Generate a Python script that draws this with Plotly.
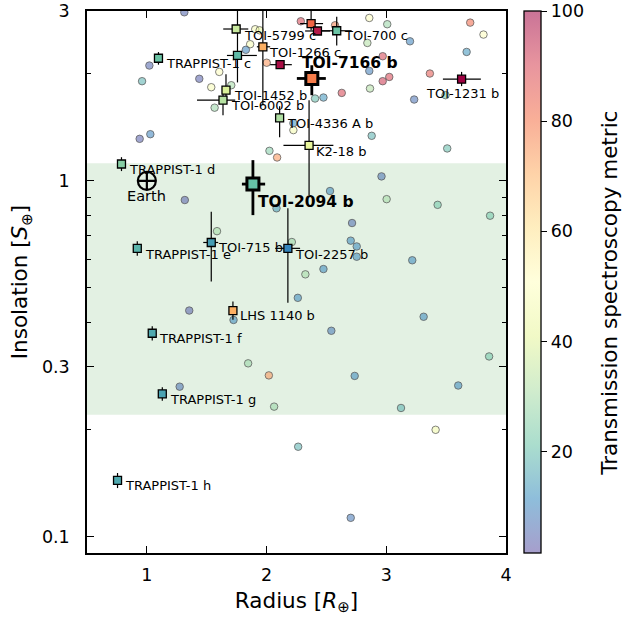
import math
import plotly.graph_objects as go

# ---------------- background sample of small planets (circles) ----------------
bg_radius = [1.313, 1.905, 1.942, 1.863, 1.827, 2.001, 1.021, 0.960, 1.438, 1.605,
             1.538, 1.705, 1.566, 2.224, 2.224, 0.940, 1.029, 2.024, 2.088, 2.286,
             2.572, 2.858, 3.008, 3.701, 3.812, 2.842, 3.198, 3.671, 2.970, 2.858,
             3.364, 3.025, 2.970, 2.628, 2.864, 3.233, 2.405, 2.475, 3.495, 2.878,
             3.509, 2.960, 2.530, 3.003, 3.429, 3.867, 2.714, 2.703, 2.753, 2.753,
             2.211, 3.217, 2.475, 2.324, 2.261, 3.312, 2.541, 1.317, 2.083, 1.586,
             1.354, 1.724, 1.846, 2.019, 1.274, 2.063, 3.859, 2.736, 3.601, 3.123,
             3.412, 2.264, 2.703]
bg_insol = [2.975, 2.666, 2.648, 2.420, 2.334, 2.147, 2.108, 1.905, 1.935, 2.023,
            1.832, 1.856, 1.605, 1.452, 1.388, 1.312, 1.352, 1.214, 1.163, 2.807,
            2.735, 2.868, 2.754, 2.783, 2.576, 2.440, 2.466, 2.302, 2.239, 2.036,
            2.002, 1.958, 1.905, 1.766, 1.817, 1.692, 1.703, 1.714, 1.740, 1.338,
            1.233, 1.029, 0.936, 0.888, 0.856, 0.798, 0.761, 0.679, 0.654, 0.612,
            0.673, 0.598, 0.565, 0.546, 0.469, 0.415, 0.379, 0.883, 0.837, 0.722,
            0.432, 0.4065, 0.307, 0.284, 0.264, 0.232, 0.321, 0.283, 0.266, 0.230,
            0.1997, 0.179, 0.113]
bg_tsm = [5, 48, 42, 47, 10, 75, 5, 18, 4, 50,
          48, 30, 28, 12, 46, 4, 10, 25, 75, 90,
          78, 50, 28, 82, 50, 32, 10, 13, 90, 9,
          86, 90, 92, 90, 32, 7, 20, 13, 22, 18,
          20, 7, 11, 30, 22, 22, 6, 11, 11, 11,
          28, 11, 11, 30, 11, 11, 8, 4, 14, 30,
          4, 11, 28, 75, 7, 28, 22, 11, 11, 18,
          45, 18, 8]

# ---------------- highlighted planets (squares with error bars) ----------------
hl_name = ["TRAPPIST-1 c", "TRAPPIST-1 d", "TRAPPIST-1 e", "TRAPPIST-1 f",
           "TRAPPIST-1 g", "TRAPPIST-1 h", "TOI-5799 c", "", "TOI-1266 c", "",
           "", "", "TOI-700 c", "TOI-1231 b", "TOI-1452 b", "TOI-6002 b",
           "TOI-4336 A b", "K2-18 b", "TOI-715 b", "TOI-2257 b", "LHS 1140 b"]
hl_radius = [1.097, 0.788, 0.920, 1.045, 1.129, 0.755, 1.746, 1.757, 1.969, 2.113,
             2.372, 2.425, 2.586, 3.629, 1.661, 1.636, 2.109, 2.355, 1.538, 2.178, 1.719]
hl_radius_lo = [0.014, 0.011, 0.013, 0.013, 0.015, 0.014, 0.108, 0.088, 0.050, 0.083,
                0.092, 0.103, 0.125, 0.156, 0.030, 0.217, 0.030, 0.214, 0.067, 0.106, 0.030]
hl_radius_hi = [0.014, 0.011, 0.013, 0.013, 0.015, 0.014, 0.101, 0.162, 0.061, 0.098,
                0.100, 0.105, 0.125, 0.161, 0.030, 0.102, 0.030, 0.203, 0.058, 0.102, 0.030]
hl_insol = [2.21, 1.115, 0.646, 0.373, 0.252, 0.144, 2.67, 2.25, 2.38, 2.12,
            2.765, 2.636, 2.64, 1.930, 1.797, 1.685, 1.502, 1.257, 0.671, 0.646, 0.432]
hl_insol_lo = [0.09, 0.05, 0.03, 0.017, 0.011, 0.007, 0.06, 0.36, 0.75, 0.04,
               0.115, 0.04, 0.24, 0.085, 0.112, 0.156, 0.176, 0.345, 0.150, 0.192, 0.025]
hl_insol_hi = [0.09, 0.05, 0.03, 0.017, 0.011, 0.007, 0.06, 1.50, 1.50, 0.04,
               1.00, 0.04, 0.25, 0.093, 0.196, 0.078, 0.119, 0.428, 0.147, 0.191, 0.026]
hl_tsm = [22, 26, 19, 17, 16, 17, 36, 20, 70, 98,
          82, 96, 22, 100, 39, 33, 32, 42, 15, 11, 70]

# the two featured planets
ft_name = ["TOI-7166 b", "TOI-2094 b"]
ft_radius = [2.378, 1.886]
ft_radius_lo = [0.125, 0.092]
ft_radius_hi = [0.117, 0.102]
ft_insol = [1.939, 0.979]
ft_insol_lo = [0.199, 0.178]
ft_insol_hi = [0.173, 0.164]
ft_tsm = [78, 21]

# habitable-zone band and Earth reference
hz_insol_inner = 1.12
hz_insol_outer = 0.22
earth_radius = [1.0]
earth_insol = [1.0]

x_ticks = [1, 2, 3, 4]
y_major = [0.1, 0.3, 1, 3]
y_major_text = ["0.1", "0.3", "1", "3"]
y_minor = [0.2, 0.4, 0.5, 0.6, 0.7, 0.8, 0.9, 2]
cbar_ticks = [20, 40, 60, 80, 100]
TSM_MIN, TSM_MAX = 1.6, 100

# label placement (pixel offsets right / down from each square)
label_offset = {
    "TRAPPIST-1 c": (7, 5), "TRAPPIST-1 d": (7, 6), "TRAPPIST-1 e": (7, 6),
    "TRAPPIST-1 f": (6, 5), "TRAPPIST-1 g": (7, 6), "TRAPPIST-1 h": (6, 5),
    "TOI-5799 c": (7, 6), "TOI-1266 c": (5, 6), "TOI-700 c": (6, 5),
    "TOI-1231 b": (-37, 14), "TOI-1452 b": (7, 5), "TOI-6002 b": (7, 5),
    "TOI-4336 A b": (6, 6), "K2-18 b": (6, 6), "TOI-715 b": (6, 5),
    "TOI-2257 b": (6, 6), "LHS 1140 b": (6, 5),
    "TOI-7166 b": (-11, -15), "TOI-2094 b": (4, 18),
}

# Spectral_r colour map
spectral = ["#9e0142", "#d53e4f", "#f46d43", "#fdae61", "#fee08b", "#ffffbf",
            "#e6f598", "#abdda4", "#66c2a5", "#3288bd", "#5e4fa2"][::-1]


def make_scale(alpha):
    out = []
    n = len(spectral) - 1
    for i, h in enumerate(spectral):
        r, g, b = int(h[1:3], 16), int(h[3:5], 16), int(h[5:7], 16)
        out.append([i / n, f"rgba({r},{g},{b},{alpha})"])
    return out


FONT = "DejaVu Sans"
TITLE_SIZE = 21.5
fig = go.Figure()

# habitable zone
fig.add_shape(type="rect", xref="paper", x0=0, x1=1, yref="y",
              y0=hz_insol_outer, y1=hz_insol_inner,
              fillcolor="rgba(0,128,0,0.11)", line=dict(width=0), layer="below")

# background planets
fig.add_trace(go.Scatter(
    x=bg_radius, y=bg_insol, mode="markers",
    marker=dict(symbol="circle", size=7.5, color=bg_tsm, cmin=TSM_MIN, cmax=TSM_MAX,
                colorscale=make_scale(0.55),
                line=dict(color="rgba(90,90,90,0.75)", width=1),
                showscale=True,
                colorbar=dict(
                    x=1.043, xanchor="left", xpad=0, y=0.5, yanchor="middle",
                    len=1, lenmode="fraction", ypad=0, thickness=17,
                    outlinewidth=1.3, outlinecolor="black",
                    tickvals=cbar_ticks, ticks="outside", ticklen=6, tickwidth=1.2,
                    tickcolor="black",
                    tickfont=dict(family=FONT, size=17.5, color="black"),
                )),
    showlegend=False, hoverinfo="skip"))

# highlighted planets
fig.add_trace(go.Scatter(
    x=hl_radius, y=hl_insol, mode="markers",
    error_x=dict(type="data", symmetric=False, array=hl_radius_hi, arrayminus=hl_radius_lo,
                 color="black", thickness=1.2, width=0),
    error_y=dict(type="data", symmetric=False, array=hl_insol_hi, arrayminus=hl_insol_lo,
                 color="black", thickness=1.2, width=0),
    marker=dict(symbol="square", size=8, color=hl_tsm, cmin=TSM_MIN, cmax=TSM_MAX,
                colorscale=make_scale(1.0), line=dict(color="black", width=1.3),
                showscale=False),
    showlegend=False, hoverinfo="skip"))

# featured planets
fig.add_trace(go.Scatter(
    x=ft_radius, y=ft_insol, mode="markers",
    error_x=dict(type="data", symmetric=False, array=ft_radius_hi, arrayminus=ft_radius_lo,
                 color="black", thickness=2.8, width=0),
    error_y=dict(type="data", symmetric=False, array=ft_insol_hi, arrayminus=ft_insol_lo,
                 color="black", thickness=2.8, width=0),
    marker=dict(symbol="square", size=12, color=ft_tsm, cmin=TSM_MIN, cmax=TSM_MAX,
                colorscale=make_scale(1.0), line=dict(color="black", width=3),
                showscale=False),
    showlegend=False, hoverinfo="skip"))

# Earth
fig.add_trace(go.Scatter(
    x=earth_radius, y=earth_insol, mode="markers",
    marker=dict(symbol="circle-cross-open", size=18, color="black",
                line=dict(color="black", width=2.2)),
    showlegend=False, hoverinfo="skip"))

annotations = []
for name, r, s in zip(hl_name, hl_radius, hl_insol):
    if not name:
        continue
    dx, dy = label_offset[name]
    annotations.append(dict(x=r, y=math.log10(s), xref="x", yref="y", text=name,
                            showarrow=False, xanchor="left", yanchor="middle",
                            xshift=dx, yshift=-dy, borderpad=0,
                            font=dict(family=FONT, size=13, color="black")))
for name, r, s in zip(ft_name, ft_radius, ft_insol):
    dx, dy = label_offset[name]
    annotations.append(dict(x=r, y=math.log10(s), xref="x", yref="y",
                            text=f"<b>{name}</b>", showarrow=False,
                            xanchor="left", yanchor="middle",
                            xshift=dx, yshift=-dy, borderpad=0,
                            font=dict(family=FONT, size=15.5, color="black")))
annotations.append(dict(x=earth_radius[0], y=math.log10(earth_insol[0]), xref="x", yref="y",
                        text="Earth", showarrow=False, xanchor="center", yanchor="middle",
                        yshift=-15, borderpad=0,
                        font=dict(family=FONT, size=14.5, color="black")))
# colour-bar label
annotations.append(dict(x=1.248, y=0.48, xref="paper", yref="paper",
                        text="Transmission spectroscopy metric", textangle=-90,
                        showarrow=False, xanchor="center", yanchor="middle",
                        font=dict(family=FONT, size=TITLE_SIZE, color="black")))

axis_common = dict(showline=True, linewidth=1.5, linecolor="black", mirror="ticks",
                   ticks="inside", tickwidth=1.2, tickcolor="black", showgrid=False,
                   zeroline=False, tickfont=dict(family=FONT, size=17.5, color="black"))

fig.update_layout(
    width=622, height=621,
    margin=dict(l=87, r=116, t=11, b=68, autoexpand=False),
    paper_bgcolor="white", plot_bgcolor="white",
    font=dict(family=FONT, color="black"),
    annotations=annotations,
    xaxis=dict(range=[0.5, 4], tickvals=x_ticks, ticklen=7, ticklabelstandoff=5,
               title=dict(text="Radius [<i>R</i><sub>⊕</sub>]",
                          font=dict(family=FONT, size=TITLE_SIZE), standoff=9),
               **axis_common),
    yaxis=dict(type="log", range=[math.log10(0.09), math.log10(3)],
               tickvals=y_major, ticktext=y_major_text, ticklen=7,
               ticklabelstandoff=12,
               minor=dict(tickvals=y_minor, ticks="inside", ticklen=4,
                          tickwidth=1.0, tickcolor="black", showgrid=False),
               title=dict(text="Insolation [<i>S</i><sub>⊕</sub>]",
                          font=dict(family=FONT, size=TITLE_SIZE), standoff=8),
               **axis_common),
)

fig.write_html("out.html")
